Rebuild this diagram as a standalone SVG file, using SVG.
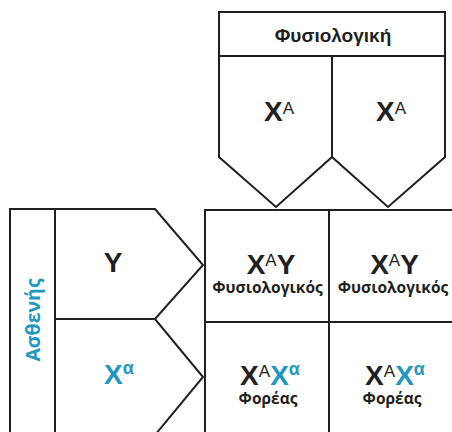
<svg xmlns="http://www.w3.org/2000/svg" width="452" height="432" viewBox="0 0 452 432">
<style>
.ln{fill:#fff;stroke:#231f20;stroke-width:2;stroke-linejoin:miter}
.big{font-family:"Liberation Sans",Arial,sans-serif;font-weight:bold;font-size:28px;fill:#231f20}
.sup{font-family:"Liberation Sans",Arial,sans-serif;font-weight:normal;font-size:17px}
.supa{font-family:"Liberation Sans",Arial,sans-serif;font-weight:bold;font-size:18px}
.lbl{font-family:"Open Sans","Noto Sans",sans-serif;font-weight:700;font-size:15.5px;fill:#231f20}
.hdr{font-family:"Liberation Sans",Arial,sans-serif;font-weight:bold;font-size:19px;fill:#231f20}
.vt{font-family:"Open Sans","Noto Sans",sans-serif;font-weight:700;font-size:19.5px}
.blue{fill:#2596be}
</style>
<rect width="452" height="432" fill="#fff"/>
<g id="header">
<rect class="ln" x="219" y="12" width="226" height="44"/>
<text class="hdr" x="333" y="42" text-anchor="middle">Φυσιολογική</text>
</g>
<g id="mom-left">
<path class="ln" d="M219,56 H332 V157 L276,207 L219,157 Z"/>
<text class="big" x="279" y="121" text-anchor="middle">X<tspan class="sup" dy="-7">A</tspan></text>
</g>
<g id="mom-right">
<path class="ln" d="M332,56 H445 V157 L388,207 L332,157 Z"/>
<text class="big" x="391" y="121" text-anchor="middle">X<tspan class="sup" dy="-7">A</tspan></text>
</g>
<g id="dad-label">
<rect class="ln" x="10" y="209" width="45" height="230"/>
<text class="vt blue" transform="translate(40,320) rotate(-90)" text-anchor="middle">Ασθενής</text>
</g>
<g id="dad-y">
<path class="ln" d="M55,209 H155 L203,265 L155,319 H55 Z"/>
<text class="big" x="113" y="272" text-anchor="middle">Y</text>
</g>
<g id="dad-x">
<path class="ln" d="M55,319 H155 L203,377 L155,435 H55 Z"/>
<text class="big blue" x="119" y="384" text-anchor="middle">X<tspan class="supa" dy="-10">α</tspan></text>
</g>
<g id="c11">
<rect class="ln" x="205" y="210" width="124" height="112"/>
<text class="big" x="271" y="274" text-anchor="middle">X<tspan class="sup" dy="-8">A</tspan><tspan dy="8">Y</tspan></text>
<text class="lbl" x="267.5" y="293" text-anchor="middle">Φυσιολογικός</text>
</g>
<g id="c12">
<rect class="ln" x="329" y="210" width="130" height="112"/>
<text class="big" x="394.5" y="274" text-anchor="middle">X<tspan class="sup" dy="-8">A</tspan><tspan dy="8">Y</tspan></text>
<text class="lbl" x="393" y="293" text-anchor="middle">Φυσιολογικός</text>
</g>
<g id="c21">
<rect class="ln" x="205" y="322" width="124" height="120"/>
<text class="big" x="270" y="385" text-anchor="middle">X<tspan class="sup" dy="-8">A</tspan><tspan class="blue" dy="8">X</tspan><tspan class="supa blue" dy="-10">α</tspan></text>
<text class="lbl" x="268" y="404" text-anchor="middle">Φορέας</text>
</g>
<g id="c22">
<rect class="ln" x="329" y="322" width="130" height="120"/>
<text class="big" x="395" y="385" text-anchor="middle">X<tspan class="sup" dy="-8">A</tspan><tspan class="blue" dy="8">X</tspan><tspan class="supa blue" dy="-10">α</tspan></text>
<text class="lbl" x="392" y="404" text-anchor="middle">Φορέας</text>
</g>
<g id="connectors"></g>
</svg>
